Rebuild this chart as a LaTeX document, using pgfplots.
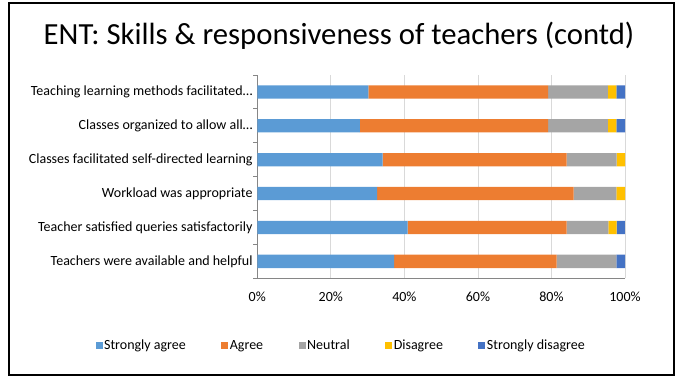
\documentclass[border=0pt]{standalone}
\usepackage{pgfplots}
\pgfplotsset{compat=1.18}
\usepackage{fontspec}
\setmainfont{Carlito}
\definecolor{cSA}{HTML}{5B9BD5}
\definecolor{cA}{HTML}{ED7D31}
\definecolor{cN}{HTML}{A5A5A5}
\definecolor{cD}{HTML}{FFC000}
\definecolor{cSD}{HTML}{4472C4}
\definecolor{gridc}{HTML}{D9D9D9}
\definecolor{axc}{HTML}{868686}
\begin{document}
\begin{tikzpicture}
\path[use as bounding box] (0,0) rectangle (683bp,378bp);
\draw[line width=1.8bp, black] (9bp,3bp) rectangle (674bp,375bp);
\node[font=\fontsize{30.7bp}{34bp}\selectfont] at (339bp,342bp) {ENT: Skills \& responsiveness of teachers (contd)};
\begin{axis}[
  at={(257.3bp,99.7bp)}, anchor=south west,
  scale only axis, width=367.7bp, height=203.3bp,
  xbar stacked, bar width=13.3bp,
  xmin=0, xmax=100, ymin=-0.5, ymax=5.5,
  axis x line*=bottom, axis y line*=left,
  axis line style={axc, line width=0.8pt},
  xtick={0,20,40,60,80,100},
  xticklabels={0\%,20\%,40\%,60\%,80\%,100\%},
  xmajorgrids, major grid style={gridc, line width=0.8pt},
  major tick length=0pt,
  ytick={0,1,2,3,4,5},
  yticklabels={Teachers were available and helpful,Teacher satisfied queries satisfactorily,Workload was appropriate,Classes facilitated self-directed learning,Classes organized to allow all…,Teaching learning methods facilitated…},
  extra y ticks={-0.5,0.5,1.5,2.5,3.5,4.5,5.5},
  extra y tick labels={},
  extra y tick style={major tick length=4bp, tick style={axc, line width=0.8pt}, tick align=outside, grid=none},
  tick label style={font=\fontsize{14bp}{16bp}\selectfont, text=black},
  yticklabel style={inner sep=0pt, xshift=-4.6bp},
  xticklabel style={inner sep=0pt, yshift=-13.5bp},
  /pgf/number format/assume math mode=true,
  legend style={at={(0.2275,-0.33)}, anchor=center, draw=none, legend columns=5,
    font=\fontsize{14bp}{16bp}\selectfont,
    nodes={inner sep=1.5bp},
    /tikz/every even column/.append style={column sep=34bp}},
  legend image code/.code={\fill[#1] (-2bp,-3.5bp) rectangle (5bp,3.5bp);},
  legend cell align=left,
  clip=false,
]
\addplot[fill=cSA, draw=none] coordinates {(37.21,0) (40.91,1) (32.56,2) (34.09,3) (27.91,4) (30.23,5)};
\addplot[fill=cA, draw=none] coordinates {(44.19,0) (43.18,1) (53.49,2) (50.00,3) (51.16,4) (48.84,5)};
\addplot[fill=cN, draw=none] coordinates {(16.28,0) (11.36,1) (11.63,2) (13.64,3) (16.28,4) (16.28,5)};
\addplot[fill=cD, draw=none] coordinates {(0,0) (2.27,1) (2.33,2) (2.27,3) (2.33,4) (2.33,5)};
\addplot[fill=cSD, draw=none] coordinates {(2.33,0) (2.27,1) (0,2) (0,3) (2.33,4) (2.33,5)};
\legend{Strongly agree,Agree,Neutral,Disagree,Strongly disagree}
\end{axis}
\end{tikzpicture}
\end{document}
